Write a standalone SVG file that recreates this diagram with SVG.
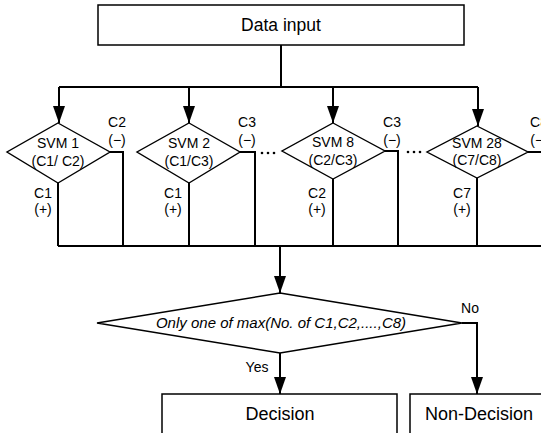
<svg xmlns="http://www.w3.org/2000/svg" width="541" height="433" viewBox="0 0 541 433">
<defs>
<marker id="ah" markerUnits="userSpaceOnUse" markerWidth="18" markerHeight="12" refX="17" refY="6" orient="auto">
<path d="M0,0 L17,6 L0,12 Z" fill="#000"/>
</marker>
<style>
.box{fill:#fff;stroke:#000;stroke-width:1.5}
.dia{fill:#fff;stroke:#000;stroke-width:1.4}
.ln{fill:none;stroke:#000;stroke-width:2}
.ar{fill:none;stroke:#000;stroke-width:2;marker-end:url(#ah)}
text{font-family:"Liberation Sans",Arial,sans-serif;fill:#000}
.t13{font-size:14px;text-anchor:middle}
.svm{font-size:14px;text-anchor:middle}
.big{font-size:18px;text-anchor:middle}
.it{font-size:15px;font-style:italic;text-anchor:middle}
</style>
</defs>
<rect width="541" height="433" fill="#fff"/>

<g id="connectors">
<path class="ln" d="M281,45 V87 M59,87 H478"/>
<path class="ar" d="M59,87 V123"/>
<path class="ar" d="M189,87 V123"/>
<path class="ar" d="M333,87 V123"/>
<path class="ar" d="M478,87 V126"/>
<path class="ln" d="M110,152 H123 V246 M58,183 V246"/>
<path class="ln" d="M240,152 H255 V246 M189,183 V246"/>
<path class="ln" d="M385,151 H398 V246 M333,179 V246"/>
<path class="ln" d="M528,152 H541 M477,178 V246"/>
<path class="ln" d="M58,246 H541"/>
<path class="ar" d="M280,246 V293"/>
<path class="ar" d="M280,353 V394"/>
<path class="ar" d="M462,323 H477 V394"/>
<g fill="#000">
<circle cx="262" cy="153" r="1.3"/><circle cx="268" cy="153" r="1.3"/><circle cx="274" cy="153" r="1.3"/>
<circle cx="408" cy="152" r="1.3"/><circle cx="414" cy="152" r="1.3"/><circle cx="420" cy="152" r="1.3"/>
</g>
<text class="t13" x="117" y="127">C2</text><text class="t13" x="117" y="145">(−)</text>
<text class="t13" x="43" y="198">C1</text><text class="t13" x="43" y="214">(+)</text>
<text class="t13" x="247" y="127">C3</text><text class="t13" x="247" y="145">(−)</text>
<text class="t13" x="173" y="198">C1</text><text class="t13" x="173" y="214">(+)</text>
<text class="t13" x="392" y="127">C3</text><text class="t13" x="392" y="145">(−)</text>
<text class="t13" x="317" y="198">C2</text><text class="t13" x="317" y="214">(+)</text>
<text class="t13" x="539" y="127">C8</text><text class="t13" x="539" y="145">(−)</text>
<text class="t13" x="462" y="198">C7</text><text class="t13" x="462" y="214">(+)</text>
<text class="t13" x="470" y="313">No</text>
<text class="t13" x="257" y="372">Yes</text>
</g>

<g id="data-input">
<rect class="box" x="98" y="5" width="366" height="40"/>
<text class="big" x="281" y="31" style="font-size:17.5px">Data input</text>
</g>

<g id="svm1">
<polygon class="dia" points="58,123 110,152 58,183 7,152"/>
<text class="svm" x="58" y="148">SVM 1</text>
<text class="svm" x="58" y="166">(C1/ C2)</text>
</g>

<g id="svm2">
<polygon class="dia" points="189,123 240,152 189,183 137,152"/>
<text class="svm" x="189" y="148">SVM 2</text>
<text class="svm" x="189" y="166">(C1/C3)</text>
</g>

<g id="svm8">
<polygon class="dia" points="333,123 385,151 333,179 282,151"/>
<text class="svm" x="333" y="147">SVM 8</text>
<text class="svm" x="333" y="165">(C2/C3)</text>
</g>

<g id="svm28">
<polygon class="dia" points="477,126 528,152 477,178 427,152"/>
<text class="svm" x="477" y="148">SVM 28</text>
<text class="svm" x="477" y="165">(C7/C8)</text>
</g>

<g id="max-check">
<polygon class="dia" points="280,293 462,323 280,353 97,323"/>
<text class="it" x="281" y="328">Only one of max(No. of C1,C2,....,C8)</text>
</g>

<g id="decision">
<path class="box" d="M162,434 V394 H397 V434"/>
<text class="big" x="280" y="420">Decision</text>
</g>

<g id="non-decision">
<path class="box" d="M410,434 V394 H542"/>
<text class="big" x="479" y="420">Non-Decision</text>
</g>
</svg>
